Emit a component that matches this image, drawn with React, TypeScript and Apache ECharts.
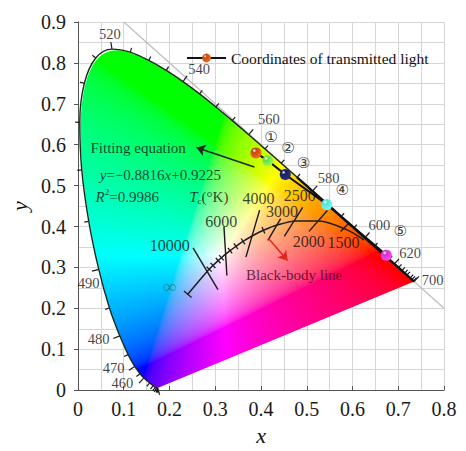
import React, { useEffect, useRef } from 'react';
import * as echarts from 'echarts';

const SERIF = 'Liberation Serif, Times New Roman, serif';

// CIE 1931 spectral locus: [wavelength (nm), x, y]
const LOCUS: [number, number, number][] = [
  [380, 0.1741, 0.005], [390, 0.1738, 0.0049], [400, 0.1733, 0.0048], [410, 0.1726, 0.0048],
  [420, 0.1714, 0.0051], [430, 0.1689, 0.0069], [440, 0.1644, 0.0109], [450, 0.1566, 0.0177],
  [460, 0.144, 0.0297], [465, 0.1355, 0.0399], [470, 0.1241, 0.0578], [475, 0.1096, 0.0868],
  [480, 0.0913, 0.1327], [485, 0.0687, 0.2007], [490, 0.0454, 0.295], [495, 0.0235, 0.4127],
  [500, 0.0082, 0.5384], [505, 0.0039, 0.6548], [510, 0.0139, 0.7502], [515, 0.0389, 0.812],
  [520, 0.0743, 0.8338], [525, 0.1142, 0.8262], [530, 0.1547, 0.8059], [535, 0.1929, 0.7816],
  [540, 0.2296, 0.7543], [545, 0.2658, 0.7243], [550, 0.3016, 0.6923], [555, 0.3373, 0.6589],
  [560, 0.3731, 0.6245], [565, 0.4087, 0.5896], [570, 0.4441, 0.5547], [575, 0.4788, 0.5202],
  [580, 0.5125, 0.4866], [585, 0.5448, 0.4544], [590, 0.5752, 0.4242], [595, 0.6029, 0.3965],
  [600, 0.627, 0.3725], [605, 0.6482, 0.3514], [610, 0.6658, 0.334], [615, 0.6801, 0.3197],
  [620, 0.6915, 0.3083], [625, 0.7006, 0.2993], [630, 0.7079, 0.292], [635, 0.714, 0.2859],
  [640, 0.719, 0.2809], [650, 0.726, 0.274], [660, 0.73, 0.27], [680, 0.7334, 0.2666],
  [700, 0.7347, 0.2653],
];
const WL_LABELED = [380, 460, 470, 480, 490, 520, 540, 560, 580, 600, 620, 700];
const WL_LABELS: [string, number, number][] = [
  ['520', 0.0696, 0.87], ['540', 0.265, 0.785], ['560', 0.4174, 0.662], ['580', 0.5478, 0.519],
  ['600', 0.6587, 0.4028], ['620', 0.7261, 0.3341], ['700', 0.7754, 0.2701], ['490', 0.0233, 0.2623],
  ['480', 0.045, 0.1248], ['470', 0.0776, 0.0538], ['460', 0.0972, 0.0182], ['380', 0.2115, -0.0017],
];

// Planckian locus: [T (K), x, y]  (first = infinity)
const PLANCK: [number, number, number][] = [
  [1e9, 0.2399, 0.2342], [10000, 0.2807, 0.2884], [9000, 0.2867, 0.2957], [8000, 0.295, 0.3048],
  [7000, 0.3064, 0.3166], [6500, 0.3135, 0.3236], [6000, 0.3221, 0.3318], [5500, 0.3324, 0.341],
  [5000, 0.3451, 0.3516], [4500, 0.3608, 0.3635], [4000, 0.3805, 0.3768], [3500, 0.4053, 0.3907],
  [3000, 0.4369, 0.4041], [2500, 0.477, 0.4137], [2000, 0.5266, 0.4133], [1500, 0.5857, 0.3931],
  [1200, 0.6251, 0.3674],
];
const PLANCK_TICKS = [1e9, 9000, 8000, 7000, 6500, 5500, 5000, 4500, 3500];

// isotherms: [x1, y1, x2, y2]
const ISOTHERMS: [number, number, number, number][] = [
  [0.2515, 0.348, 0.306, 0.2457],
  [0.319, 0.4, 0.3255, 0.28],
  [0.397, 0.44, 0.367, 0.325],
  [0.443, 0.419, 0.415, 0.366],
  [0.491, 0.447, 0.451, 0.376],
  [0.545, 0.439, 0.505, 0.388],
  [0.592, 0.408, 0.574, 0.388],
];
const ISO_LABELS: [string, number, number][] = [
  ['10000', 0.2007, 0.3524], ['6000', 0.313, 0.4116], ['4000', 0.3946, 0.4692],
  ['3000', 0.4457, 0.4367], ['2500', 0.4848, 0.4746], ['2000', 0.5043, 0.3626], ['1500', 0.5804, 0.3602],
];

const POINT_NAMES = ['①', '②', '③', '④', '⑤'];
const POINT_X = [0.389, 0.415, 0.453, 0.544, 0.674];
const POINT_Y = [0.58, 0.561, 0.527, 0.454, 0.33];
const POINT_COLORS = ['#c04a12', '#66dd40', '#1a2060', '#55e0d6', '#d232c8'];
const POINT_LABEL_X = [0.4217, 0.459, 0.493, 0.5776, 0.7043];
const POINT_LABEL_Y = [0.62, 0.592, 0.555, 0.4889, 0.3879];

const FIT_ARROW: [number, number][] = [[0.3855, 0.5457], [0.2587, 0.593]];
const BB_ARROW: [number, number][] = [[0.416, 0.371], [0.458, 0.317]];

const NOTES: { text: string; x: number; y: number; color?: string; size?: number }[] = [
  { text: 'Fitting equation', x: 0.1315, y: 0.5908 },
  { text: '{i|y}=−0.8816{i|x}+0.9225', x: 0.18, y: 0.526 },
  { text: '{i|R}{sup|2}=0.9986', x: 0.1076, y: 0.4732 },
  { text: '{i|T}{sub|c}(°K)', x: 0.2859, y: 0.4732 },
  { text: 'Black-body line', x: 0.4724, y: 0.282, color: '#3a0c0c' },
  { text: '∞', x: 0.2, y: 0.2536, color: '#1f7f7f', size: 19 },
];

const X_MAX = 0.8;
const Y_MAX = 0.9;

function gamma(v: number) {
  return v <= 0.0031308 ? 12.92 * v : 1.055 * Math.pow(v, 1 / 2.4) - 0.055;
}

function xyToRgb(x: number, y: number): [number, number, number] {
  const yy = Math.max(y, 0.002);
  const X = x / yy;
  const Y = 1;
  const Z = (1 - x - yy) / yy;
  let r = 3.2406 * X - 1.5372 * Y - 0.4986 * Z;
  let g = -0.9689 * X + 1.8758 * Y + 0.0415 * Z;
  let b = 0.0557 * X - 0.204 * Y + 1.057 * Z;
  r = Math.max(r, 0); g = Math.max(g, 0); b = Math.max(b, 0);
  const m = Math.max(r, g, b, 1e-6);
  return [gamma(r / m) * 255, gamma(g / m) * 255, gamma(b / m) * 255];
}

let fillCache: { w: number; h: number; url: string } | null = null;
function buildFill(w: number, h: number): string {
  if (fillCache && fillCache.w === w && fillCache.h === h) return fillCache.url;
  const tmp = document.createElement('canvas');
  tmp.width = w; tmp.height = h;
  const tctx = tmp.getContext('2d')!;
  const img = tctx.createImageData(w, h);
  for (let j = 0; j < h; j++) {
    for (let i = 0; i < w; i++) {
      const x = ((i + 0.5) / w) * X_MAX;
      const y = Y_MAX - ((j + 0.5) / h) * Y_MAX;
      const [r, g, b] = xyToRgb(x, y);
      const k = (j * w + i) * 4;
      img.data[k] = r; img.data[k + 1] = g; img.data[k + 2] = b; img.data[k + 3] = 255;
    }
  }
  tctx.putImageData(img, 0, 0);
  const c = document.createElement('canvas');
  c.width = w; c.height = h;
  const ctx = c.getContext('2d')!;
  const pts = LOCUS.map(([, x, y]) => [(x / X_MAX) * w, ((Y_MAX - y) / Y_MAX) * h]);
  ctx.beginPath();
  ctx.moveTo(pts[0][0], pts[0][1]);
  for (let i = 1; i < pts.length - 1; i++) {
    const mx = (pts[i][0] + pts[i + 1][0]) / 2;
    const my = (pts[i][1] + pts[i + 1][1]) / 2;
    ctx.quadraticCurveTo(pts[i][0], pts[i][1], mx, my);
  }
  ctx.lineTo(pts[pts.length - 1][0], pts[pts.length - 1][1]);
  ctx.closePath();
  ctx.clip();
  ctx.drawImage(tmp, 0, 0);
  const url = c.toDataURL('image/png');
  fillCache = { w, h, url };
  return url;
}

function sphere(c: string) {
  return new echarts.graphic.RadialGradient(0.35, 0.3, 0.75, [
    { offset: 0, color: '#ffffff' },
    { offset: 0.25, color: c },
    { offset: 1, color: echarts.color.lift(c, -0.45) as string },
  ]);
}

export default function App() {
  const ref = useRef<HTMLDivElement>(null);
  useEffect(() => {
    if (!ref.current) return;
    const chart = echarts.init(ref.current, undefined, { renderer: 'svg' });

    const locusData = LOCUS.map(([, x, y]) => [x, y]);
    const locusRed = LOCUS.filter(([w]) => w >= 575).map(([, x, y]) => [x, y]);

    const option: any = {
      animation: false,
      textStyle: { fontFamily: SERIF },
      grid: { left: 76, top: 22, right: 22, bottom: 49, containLabel: false },
      legend: {
        data: ['Coordinates of transmitted light'],
        left: 181, top: 45,
        itemWidth: 39, itemHeight: 11, itemGap: 5,
        textStyle: { fontFamily: SERIF, fontSize: 15.5, color: '#111' },
      },
      xAxis: {
        type: 'value', min: 0, max: X_MAX, interval: 0.1,
        name: 'x', nameLocation: 'middle', nameGap: 30,
        nameTextStyle: { fontFamily: SERIF, fontSize: 22, fontStyle: 'italic', color: '#111' },
        axisLine: { show: true, lineStyle: { color: '#555', width: 1 } },
        axisTick: { show: true, inside: true, length: 4, lineStyle: { color: '#555' } },
        axisLabel: { fontFamily: SERIF, fontSize: 20, color: '#1a1a1a', margin: 9 },
        splitLine: { show: true, lineStyle: { color: '#d6d6d6', width: 1 } },
        minorTick: { show: false, splitNumber: 2 },
        minorSplitLine: { show: true, lineStyle: { color: '#d6d6d6', width: 1 } },
      },
      yAxis: {
        type: 'value', min: 0, max: Y_MAX, interval: 0.1,
        name: 'y', nameLocation: 'middle', nameGap: 48,
        nameTextStyle: { fontFamily: SERIF, fontSize: 22, fontStyle: 'italic', color: '#111' },
        axisLine: { show: true, lineStyle: { color: '#555', width: 1 } },
        axisTick: { show: true, inside: false, length: 4, lineStyle: { color: '#555' } },
        axisLabel: { fontFamily: SERIF, fontSize: 20, color: '#1a1a1a', margin: 12 },
        splitLine: { show: true, lineStyle: { color: '#d6d6d6', width: 1 } },
        minorTick: { show: false, splitNumber: 2 },
        minorSplitLine: { show: true, lineStyle: { color: '#d6d6d6', width: 1 } },
      },
      series: [
        {
          name: 'fill', type: 'custom', coordinateSystem: 'cartesian2d', silent: true, z: 1,
          data: [[0.4, 0.45]],
          renderItem: (_p: any, api: any) => {
            const p0 = api.coord([0, Y_MAX]);
            const p1 = api.coord([X_MAX, 0]);
            const w = Math.round(p1[0] - p0[0]);
            const h = Math.round(p1[1] - p0[1]);
            return {
              type: 'image', silent: true,
              style: { image: buildFill(w, h), x: p0[0], y: p0[1], width: w, height: h },
            };
          },
        },
        {
          name: 'diag', type: 'line', silent: true, z: 2, symbol: 'none',
          data: [[0.1, 0.9], [0.8, 0.2]],
          lineStyle: { color: '#bdbdbd', width: 1.2 },
        },
        {
          name: 'locus', type: 'line', silent: true, z: 3, symbol: 'none', smooth: 0.35,
          data: locusData,
          lineStyle: { color: '#1c2a1c', width: 1.4 },
        },
        {
          name: 'locusRed', type: 'line', silent: true, z: 3, symbol: 'none', smooth: 0.35,
          data: locusRed,
          lineStyle: { color: '#111', width: 2.4 },
        },
        {
          name: 'locusTicks', type: 'custom', coordinateSystem: 'cartesian2d', silent: true, z: 3,
          data: LOCUS.map(([, x, y], i) => [x, y, i]),
          renderItem: (_p: any, api: any) => {
            const i = api.value(2);
            const a = LOCUS[Math.max(0, i - 1)];
            const b = LOCUS[Math.min(LOCUS.length - 1, i + 1)];
            const pa = api.coord([a[1], a[2]]);
            const pb = api.coord([b[1], b[2]]);
            const p = api.coord([LOCUS[i][1], LOCUS[i][2]]);
            let tx = pb[0] - pa[0], ty = pb[1] - pa[1];
            const len = Math.hypot(tx, ty) || 1;
            tx /= len; ty /= len;
            let nx = -ty, ny = tx;
            const c = api.coord([0.33, 0.33]);
            if (nx * (p[0] - c[0]) + ny * (p[1] - c[1]) < 0) { nx = -nx; ny = -ny; }
            const L = WL_LABELED.includes(LOCUS[i][0]) ? 7 : 4.5;
            return {
              type: 'line',
              shape: { x1: p[0], y1: p[1], x2: p[0] + nx * L, y2: p[1] + ny * L },
              style: { stroke: '#1a1a1a', lineWidth: 1.2 },
            };
          },
        },
        {
          name: 'blackbody', type: 'line', silent: true, z: 4, symbol: 'none', smooth: 0.3,
          data: PLANCK.map(([, x, y]) => [x, y]),
          lineStyle: { color: '#1e1e1e', width: 1.5 },
        },
        {
          name: 'bbTicks', type: 'custom', coordinateSystem: 'cartesian2d', silent: true, z: 4,
          data: PLANCK.map(([t, x, y], i) => [x, y, i, t]).filter((d) => PLANCK_TICKS.includes(d[3])),
          renderItem: (_p: any, api: any) => {
            const i = api.value(2);
            const a = PLANCK[Math.max(0, i - 1)];
            const b = PLANCK[Math.min(PLANCK.length - 1, i + 1)];
            const pa = api.coord([a[1], a[2]]);
            const pb = api.coord([b[1], b[2]]);
            const p = api.coord([PLANCK[i][1], PLANCK[i][2]]);
            let tx = pb[0] - pa[0], ty = pb[1] - pa[1];
            const len = Math.hypot(tx, ty) || 1;
            tx /= len; ty /= len;
            const nx = -ty, ny = tx;
            const L = i === 0 ? 5 : 3.5;
            return {
              type: 'line',
              shape: { x1: p[0] - nx * L, y1: p[1] - ny * L, x2: p[0] + nx * L, y2: p[1] + ny * L },
              style: { stroke: '#1e1e1e', lineWidth: 1.3 },
            };
          },
        },
        {
          name: 'isotherms', type: 'lines', coordinateSystem: 'cartesian2d', silent: true, z: 4,
          data: ISOTHERMS.map(([x1, y1, x2, y2]) => ({ coords: [[x1, y1], [x2, y2]] })),
          lineStyle: { color: '#1a1a1a', width: 1.4, opacity: 1 },
        },
        {
          name: 'fitArrow', type: 'lines', coordinateSystem: 'cartesian2d', silent: true, z: 5,
          symbol: ['none', 'arrow'], symbolSize: 9,
          data: [{ coords: FIT_ARROW }],
          lineStyle: { color: '#1c2b1c', width: 1.6, opacity: 1 },
        },
        {
          name: 'bbArrow', type: 'lines', coordinateSystem: 'cartesian2d', silent: true, z: 5,
          symbol: ['none', 'arrow'], symbolSize: 9,
          data: [{ coords: BB_ARROW }],
          lineStyle: { color: '#e3241c', width: 1.5, opacity: 1 },
        },
        {
          name: 'Coordinates of transmitted light', type: 'line', z: 6,
          symbol: 'circle', symbolSize: 11,
          data: POINT_X.map((x, i) => ({
            value: [x, POINT_Y[i]],
            itemStyle: { color: sphere(POINT_COLORS[i]) },
          })),
          itemStyle: { color: sphere(POINT_COLORS[0]), borderWidth: 0 },
          lineStyle: { color: '#111', width: 2 },
        },
        {
          name: 'pointLabels', type: 'scatter', silent: true, z: 7, symbolSize: 0,
          data: POINT_NAMES.map((n, i) => ({
            value: [POINT_LABEL_X[i], POINT_LABEL_Y[i]],
            label: { formatter: n },
          })),
          label: {
            show: true, position: 'inside', color: '#000', fontSize: 15,
            fontFamily: 'DejaVu Serif, DejaVu Sans, serif',
          },
        },
        {
          name: 'wlLabels', type: 'scatter', silent: true, z: 7, symbolSize: 0,
          data: WL_LABELS.map(([t, x, y]) => ({ value: [x, y], label: { formatter: t } })),
          label: { show: true, position: 'inside', color: '#111', fontSize: 14.5, fontFamily: SERIF },
        },
        {
          name: 'isoLabels', type: 'scatter', silent: true, z: 7, symbolSize: 0,
          data: ISO_LABELS.map(([t, x, y]) => ({ value: [x, y], label: { formatter: t } })),
          label: { show: true, position: 'inside', color: '#111', fontSize: 16, fontFamily: SERIF },
        },
        {
          name: 'notes', type: 'scatter', silent: true, z: 7, symbolSize: 0,
          data: NOTES.map((n) => ({
            value: [n.x, n.y],
            label: { formatter: n.text, color: n.color || '#111', fontSize: n.size || 15 },
          })),
          label: {
            show: true, position: 'inside', fontSize: 15, fontFamily: SERIF,
            rich: {
              i: { fontStyle: 'italic', fontSize: 15, fontFamily: SERIF },
              sup: { fontSize: 9, fontFamily: SERIF, verticalAlign: 'top', lineHeight: 18 },
              sub: { fontSize: 9, fontFamily: SERIF, verticalAlign: 'bottom', lineHeight: 18 },
            },
          },
        },
      ],
    };
    chart.setOption(option);
    return () => chart.dispose();
  }, []);
  return (
    <div
      ref={ref}
      style={{ position: 'absolute', left: 0, top: 0, width: 466, height: 451, background: '#fff' }}
    />
  );
}
